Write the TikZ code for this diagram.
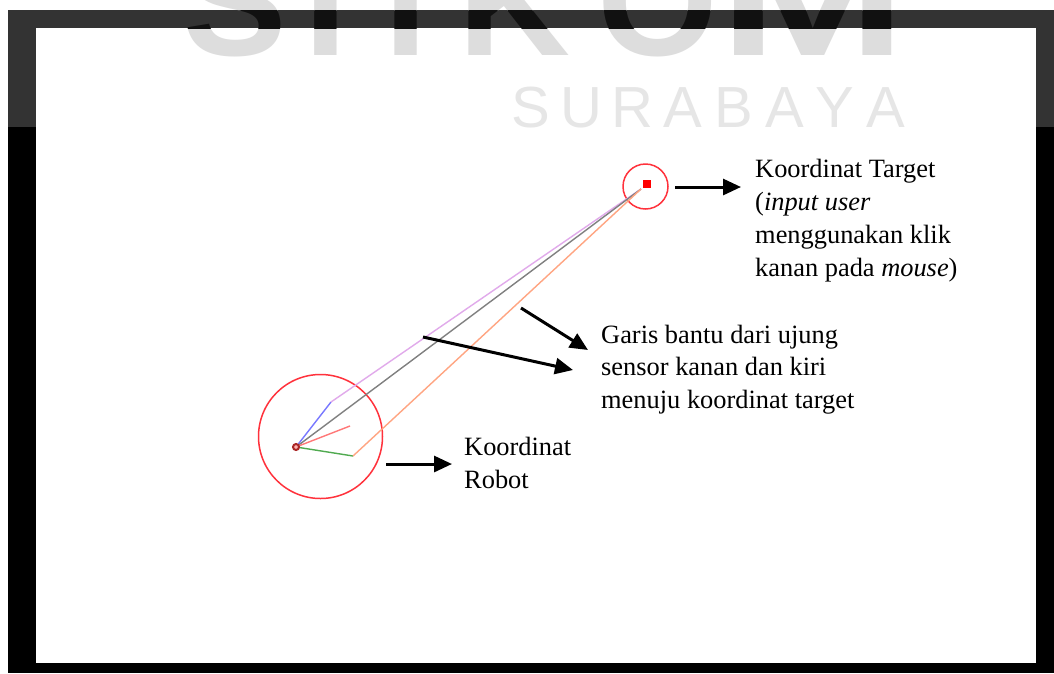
\documentclass[tikz,border=0pt]{standalone}
\usepackage{fontspec}
\setmainfont{Liberation Serif}
\newfontfamily\wmfont{Liberation Sans}
\usetikzlibrary{arrows.meta}
\definecolor{blueS}{RGB}{120,120,255}
\definecolor{pinkS}{RGB}{225,170,235}
\definecolor{grayS}{RGB}{128,128,128}
\definecolor{redS}{RGB}{255,120,120}
\definecolor{greenS}{RGB}{80,170,80}
\definecolor{orangeS}{RGB}{255,165,130}
\definecolor{circRed}{RGB}{255,50,60}
\definecolor{robotRed}{RGB}{170,40,40}
\definecolor{wmLight}{RGB}{221,221,221}
\definecolor{wmDark}{RGB}{17,17,17}
\definecolor{wmText}{RGB}{230,230,230}
\newcommand\wmStikom[2]{%
  \node[wmbig,text=#1] (#2S) at (235,55) {S};
  \node[wmbig,text=#1] (#2T) at (326,55) {T};
  \node[wmbig,text=#1] (#2I) at (406,55) {I};
  \node[wmbig,text=#1] (#2K) at (514,55) {K};
  \node[wmbig,text=#1] (#2O) at (658,55) {O};
  \node[wmbig,text=#1,xscale=1.45] (#2M) at (813,55) {M};
}
\begin{document}
\begin{tikzpicture}[x=1pt,y=-1pt,
  lbl/.style={anchor=base west, inner sep=0pt, font=\fontsize{26.4}{33}\selectfont},
  arr/.style={line width=3pt, black, -{Triangle[length=18pt,width=16pt]}},
  sline/.style={line width=1.4pt},
  wmbig/.style={anchor=base, inner sep=0pt, font=\wmfont\bfseries\fontsize{155}{155}\selectfont},
  wmsmall/.style={anchor=base, inner sep=0pt, text=wmText, font=\wmfont\fontsize{58}{58}\selectfont}]
\useasboundingbox (0,0) rectangle (1054,673);
% background and frame
\fill[white] (0,0) rectangle (1054,673);
\fill[black] (8,10) rectangle (1054,673);
\fill[white] (36,28) rectangle (1036,663);
% robot circle and target
\node[circle, draw=circRed, line width=1.5pt, minimum size=124pt, inner sep=0pt] (rcirc) at (320.5,436.5) {};
\node[circle, draw=circRed, line width=1.5pt, minimum size=45pt, inner sep=0pt] (tcirc) at (645.5,186.5) {};
\coordinate (robot) at (296,447);
\coordinate (tgt) at (641,189);
\coordinate (sblue) at (331,402);
\coordinate (sred) at (350,426);
\coordinate (sgreen) at (353,456);
\draw[sline, blueS] (robot) -- (sblue);
\draw[sline, pinkS] (sblue) -- (tgt);
\draw[sline, grayS] (robot) -- (tgt);
\draw[sline, redS] (robot) -- (sred);
\draw[sline, greenS] (robot) -- (sgreen);
\draw[sline, orangeS] (sgreen) -- (tgt);
\node[rectangle, fill=red, minimum size=8pt, inner sep=0pt] (tsq) at (647,184) {};
\node[circle, draw=robotRed, line width=2pt, fill=red!30, minimum size=6pt, inner sep=0pt] (rdot) at (robot) {};
% arrows
\coordinate (a1s) at (675,187); \coordinate (a1e) at (741,187);
\coordinate (a2s) at (521,308); \coordinate (a2e) at (588,350);
\coordinate (a3s) at (423,337); \coordinate (a3e) at (573,370);
\coordinate (a4s) at (386,464); \coordinate (a4e) at (452,464);
\draw[arr] (a1s) -- (a1e);
\draw[arr] (a2s) -- (a2e);
\draw[arr] (a3s) -- (a3e);
\draw[arr] (a4s) -- (a4e);
% labels
\node[lbl] (t1) at (755,177) {Koordinat Target};
\node[lbl] (t2) at (755,210) {(\textit{input user}};
\node[lbl] (t3) at (755,243) {menggunakan klik};
\node[lbl] (t4) at (755,276) {kanan pada \textit{mouse})};
\node[lbl] (g1) at (601,343) {Garis bantu dari ujung};
\node[lbl] (g2) at (601,375.5) {sensor kanan dan kiri};
\node[lbl] (g3) at (601,408) {menuju koordinat target};
\node[lbl] (r1) at (464,455) {Koordinat};
\node[lbl] (r2) at (464,488) {Robot};
% watermark
\fill[white, opacity=0.2] (0,0) rectangle (1054,127);
\begin{scope}
  \clip (0,0) rectangle (1054,10) (36,28) rectangle (1036,127);
  \wmStikom{wmLight}{wl}
\end{scope}
\begin{scope}
  \clip (8,10) rectangle (1054,28);
  \wmStikom{wmDark}{wd}
\end{scope}
\node[wmsmall] (su1) at (531,127) {S};
\node[wmsmall] (su2) at (581.7,127) {U};
\node[wmsmall] (su3) at (632.4,127) {R};
\node[wmsmall] (su4) at (683.1,127) {A};
\node[wmsmall] (su5) at (733.8,127) {B};
\node[wmsmall] (su6) at (784.5,127) {A};
\node[wmsmall] (su7) at (835.2,127) {Y};
\node[wmsmall] (su8) at (886,127) {A};
\end{tikzpicture}
\end{document}
